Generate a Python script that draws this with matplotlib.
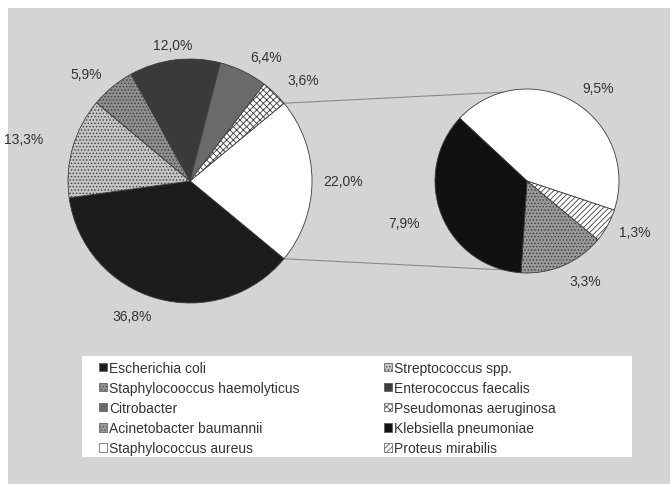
import matplotlib
matplotlib.use("Agg")
import matplotlib.pyplot as plt
import numpy as np
from matplotlib.patches import Rectangle, Patch

# ---------------- data ----------------
main_labels = ["Other", "Escherichia coli", "Streptococcus spp.",
               "Staphylocooccus haemolyticus", "Enterococcus faecalis",
               "Citrobacter", "Pseudomonas aeruginosa"]
main_values = [22.0, 36.8, 13.3, 5.9, 12.0, 6.4, 3.6]

sec_labels = ["Staphylococcus aureus", "Proteus mirabilis",
              "Acinetobacter baumannii", "Klebsiella pneumoniae"]
sec_values = [9.5, 1.3, 3.3, 7.9]

legend_order = ["Escherichia coli", "Streptococcus spp.",
                "Staphylocooccus haemolyticus", "Enterococcus faecalis",
                "Citrobacter", "Pseudomonas aeruginosa",
                "Acinetobacter baumannii", "Klebsiella pneumoniae",
                "Staphylococcus aureus", "Proteus mirabilis"]

# ---------------- styles ----------------
styles = {
    "Other": dict(fc="#ffffff", hatch=None),
    "Escherichia coli": dict(fc="#1c1c1c", hatch=None),
    "Streptococcus spp.": dict(fc="#c4c4c4", hatch="....."),
    "Staphylocooccus haemolyticus": dict(fc="#8e8e8e", hatch="....."),
    "Enterococcus faecalis": dict(fc="#3a3a3a", hatch="....."),
    "Citrobacter": dict(fc="#6a6a6a", hatch=None),
    "Pseudomonas aeruginosa": dict(fc="#ffffff", hatch="xxxxx"),
    "Staphylococcus aureus": dict(fc="#ffffff", hatch=None),
    "Proteus mirabilis": dict(fc="#ffffff", hatch="//////"),
    "Acinetobacter baumannii": dict(fc="#989898", hatch="....."),
    "Klebsiella pneumoniae": dict(fc="#111111", hatch=None),
}
edge = "#3c3c3c"
text_color = "#333333"

plt.rcParams["font.family"] = ["Liberation Sans", "DejaVu Sans"]
plt.rcParams["hatch.linewidth"] = 0.6

W, H = 670, 485
fig = plt.figure(figsize=(W / 100, H / 100), dpi=100)
fig.patch.set_facecolor("white")
ax = fig.add_axes([0, 0, 1, 1])
ax.patch.set_visible(False)
ax.add_patch(Rectangle((8, 0), W - 8, H - 9, facecolor="#d4d4d4",
                       edgecolor="none", zorder=-5))

main_c, main_r = (190, H - 182), 122
sec_c, sec_r = (527, H - 182), 92
main_start = main_values[0] / sum(main_values) * 360 / 2
sec_start = 137

def draw_pie(values, labels, center, radius, start, dists):
    wedges, _ = ax.pie(values, startangle=start, counterclock=False,
                       center=center, radius=radius,
                       colors=[styles[l]["fc"] for l in labels],
                       wedgeprops=dict(edgecolor=edge, linewidth=0.6))
    for w, l in zip(wedges, labels):
        if styles[l]["hatch"]:
            w.set_hatch(styles[l]["hatch"])
    total = sum(values)
    a = start
    for v, d in zip(values, dists):
        span = v / total * 360
        mid = np.deg2rad(a - span / 2)
        a -= span
        x = center[0] + d * radius * np.cos(mid)
        y = center[1] + d * radius * np.sin(mid)
        c = np.cos(mid)
        ha = "center" if abs(c) < 0.2 else ("left" if c > 0 else "right")
        ax.text(x, y, f"{v:.1f}%".replace(".", ","), ha=ha, va="center",
                fontsize=10, color=text_color)
    return wedges

draw_pie(main_values, main_labels, main_c, main_r, main_start,
         [1.09, 1.15, 1.25, 1.14, 1.12, 1.13, 1.15])
draw_pie(sec_values, sec_labels, sec_c, sec_r, sec_start,
         [1.17, 1.15, 1.18, 1.25])

# connector lines
for s in (1, -1):
    a1 = np.deg2rad(s * main_start)
    a2 = np.deg2rad(s * 105)
    ax.plot([main_c[0] + main_r * np.cos(a1), sec_c[0] + sec_r * np.cos(a2)],
            [main_c[1] + main_r * np.sin(a1), sec_c[1] + sec_r * np.sin(a2)],
            color="#8a8a8a", lw=0.8, zorder=0.5)

# legend box
ax.add_patch(Rectangle((82, H - 458), 550, 101, facecolor="white",
                       edgecolor="none", zorder=1))
order = legend_order[0::2] + legend_order[1::2]
handles = [Patch(facecolor=styles[l]["fc"], edgecolor="#555555", lw=0.5,
                 hatch=styles[l]["hatch"]) for l in order]
ax.legend(handles, order, loc="upper left",
          bbox_to_anchor=(99 / W, (H - 362) / H), ncol=2, frameon=False,
          fontsize=10, handlelength=0.55, handleheight=0.55,
          handletextpad=0.2, columnspacing=6.05, labelspacing=0.44,
          borderpad=0, borderaxespad=0, labelcolor=text_color)

ax.set_xlim(0, W)
ax.set_ylim(0, H)
ax.set_aspect("equal")
ax.axis("off")

fig.savefig("out.png", dpi=100, facecolor=fig.get_facecolor())
